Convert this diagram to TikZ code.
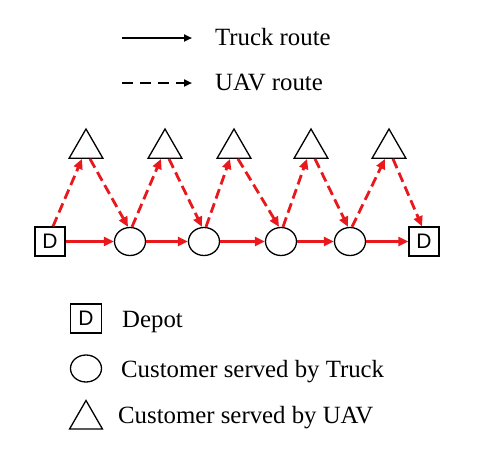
\documentclass[tikz,border=0pt]{standalone}
\usepackage{fontspec}
\setmainfont{Liberation Serif}
\newfontfamily\dfont{Liberation Sans}
\usetikzlibrary{arrows.meta,shapes.geometric}
\definecolor{routered}{RGB}{232,24,28}
\begin{document}
\begin{tikzpicture}[x=1pt,y=-1pt,
  depotbox/.style={draw=black,line width=1.3pt,minimum width=30pt,minimum height=29pt,inner sep=0pt,font=\dfont\fontsize{21}{21}\selectfont},
  truckcust/.style={draw=black,line width=1.3pt,ellipse,minimum width=31pt,minimum height=28pt,inner sep=0pt},
  uavcust/.style={draw=black,line width=1.3pt,regular polygon,regular polygon sides=3,minimum size=39pt,inner sep=0pt},
  truckarrow/.style={routered,line width=2.8pt,-{Triangle[length=10pt,width=9pt]}},
  uavarrow/.style={routered,line width=2.8pt,dash pattern=on 10pt off 5pt,-{Triangle[length=10pt,width=9pt]}},
  legtext/.style={anchor=base west,font=\fontsize{24.8}{25}\selectfont,inner sep=0pt},
  legarrow/.style={black,line width=2.2pt,-{Triangle[length=8pt,width=7pt]}},
]
\path[use as bounding box,fill=white] (0,0) rectangle (479,453);

% top legend
\coordinate (ls1) at (122,38);
\coordinate (le1) at (192,38);
\coordinate (ls2) at (122,83);
\coordinate (le2) at (192,83);
\draw[legarrow] (ls1) -- (le1);
\draw[legarrow,dash pattern=on 11pt off 7pt] (ls2) -- (le2);
\node[legtext] (lt1) at (215,45) {Truck route};
\node[legtext] (lt2) at (215,90) {UAV route};

% route nodes
\node[depotbox] (d1) at (50,241.5) {D};
\node[truckcust] (c1) at (130,241.5) {};
\node[truckcust] (c2) at (204,241.5) {};
\node[truckcust] (c3) at (281,241.5) {};
\node[truckcust] (c4) at (350,241.5) {};
\node[depotbox] (d2) at (424,241.5) {D};
\node[uavcust] (t1) at (86,148.5) {};
\node[uavcust] (t2) at (165,148.5) {};
\node[uavcust] (t3) at (234,148.5) {};
\node[uavcust] (t4) at (311,148.5) {};
\node[uavcust] (t5) at (389,148.5) {};

% truck route
\draw[truckarrow] (d1.east) -- (c1.west);
\draw[truckarrow] (c1.east) -- (c2.west);
\draw[truckarrow] (c2.east) -- (c3.west);
\draw[truckarrow] (c3.east) -- (c4.west);
\draw[truckarrow] (c4.east) -- (d2.west);

% UAV route
\draw[uavarrow] ([xshift=3pt]d1.north) -- ([xshift=-4pt]t1.south);
\draw[uavarrow] ([xshift=4pt]t1.south) -- ([xshift=-2pt]c1.north);
\draw[uavarrow] ([xshift=2pt]c1.north) -- ([xshift=-4pt]t2.south);
\draw[uavarrow] ([xshift=4pt]t2.south) -- ([xshift=-2pt]c2.north);
\draw[uavarrow] ([xshift=2pt]c2.north) -- ([xshift=-4pt]t3.south);
\draw[uavarrow] ([xshift=4pt]t3.south) -- ([xshift=-2pt]c3.north);
\draw[uavarrow] ([xshift=2pt]c3.north) -- ([xshift=-4pt]t4.south);
\draw[uavarrow] ([xshift=4pt]t4.south) -- ([xshift=-2pt]c4.north);
\draw[uavarrow] ([xshift=2pt]c4.north) -- ([xshift=-4pt]t5.south);
\draw[uavarrow] ([xshift=4pt]t5.south) -- ([xshift=-2pt]d2.north);

% bottom legend
\node[depotbox,minimum width=31pt] (ld) at (86,318.5) {D};
\node[truckcust,minimum height=27pt] (lc) at (86,368.5) {};
\node[uavcust,minimum size=38pt] (lu) at (86,419.5) {};
\node[legtext] (ldt) at (122,327) {Depot};
\node[legtext] (lct) at (121,377) {Customer served by Truck};
\node[legtext] (lut) at (118,423) {Customer served by UAV};
\end{tikzpicture}
\end{document}
